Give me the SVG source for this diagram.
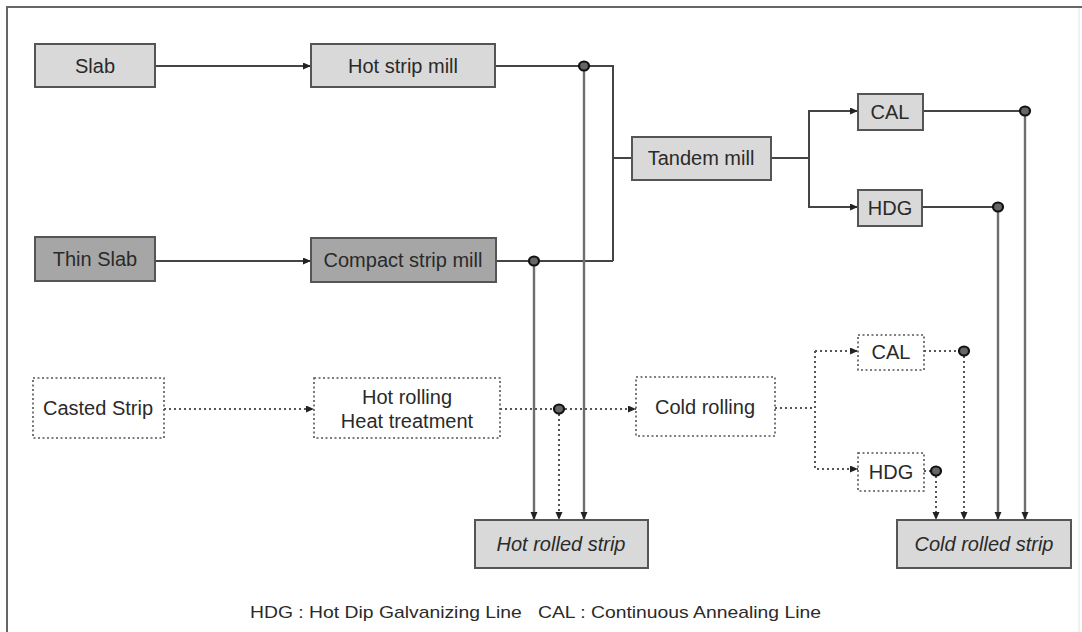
<svg xmlns="http://www.w3.org/2000/svg" width="1082" height="632" viewBox="0 0 1082 632">
<defs>
<marker id="arr" markerUnits="userSpaceOnUse" markerWidth="9" markerHeight="8" refX="8" refY="3.5" orient="auto">
<path d="M0,0 L8,3.5 L0,7 z" fill="#222"/>
</marker>
</defs>
<style>
.box{fill:#d9d9d9;stroke:#555;stroke-width:2}
.dark{fill:#a6a6a6;stroke:#555;stroke-width:2}
.dbox{fill:#fff;stroke:#555;stroke-width:1.6;stroke-dasharray:2 2.5}
.t{font-family:"Liberation Sans",Arial,sans-serif;font-size:20px;fill:#2a2a2a;text-anchor:middle;dominant-baseline:central}
.i{font-style:italic}
.s{fill:none;stroke:#444;stroke-width:2}
.v{fill:none;stroke:#6e6e6e;stroke-width:2.4}
.d{fill:none;stroke:#555;stroke-width:2;stroke-dasharray:2 3}
.j{fill:#666;stroke:#111;stroke-width:2.2}
.f{font-family:"Liberation Sans",Arial,sans-serif;font-size:17px;fill:#2a2a2a}
</style>
<rect width="1082" height="632" fill="#fff"/>
<g id="frame">
<line x1="7" y1="7" x2="1082" y2="7" stroke="#666" stroke-width="2"/>
<line x1="7" y1="6" x2="7" y2="632" stroke="#666" stroke-width="2"/>
<line x1="1079" y1="8" x2="1079" y2="632" stroke="#e4e4e4" stroke-width="1"/>
</g>
<g id="connectors">
<line class="s" x1="155" y1="66" x2="311" y2="66" marker-end="url(#arr)"/>
<polyline class="s" points="495,66 613,66 613,261"/>
<line class="s" x1="613" y1="158" x2="632" y2="158"/>
<line class="s" x1="155" y1="261" x2="311" y2="261" marker-end="url(#arr)"/>
<line class="s" x1="496" y1="261" x2="613" y2="261"/>
<line class="s" x1="771" y1="158" x2="809" y2="158"/>
<polyline class="s" points="858,111 809,111 809,207 858,207" marker-end="url(#arr)"/>
<line class="s" x1="809" y1="111" x2="858" y2="111" marker-end="url(#arr)"/>
<line class="s" x1="923" y1="111" x2="1025" y2="111"/>
<line class="s" x1="922" y1="207" x2="998" y2="207"/>
<line class="v" x1="584" y1="66" x2="584" y2="520" marker-end="url(#arr)"/>
<line class="v" x1="534" y1="261" x2="534" y2="520" marker-end="url(#arr)"/>
<line class="v" x1="1025" y1="111" x2="1025" y2="520" marker-end="url(#arr)"/>
<line class="v" x1="998" y1="207" x2="998" y2="520" marker-end="url(#arr)"/>
<line class="d" x1="164" y1="409" x2="314" y2="409" marker-end="url(#arr)"/>
<line class="d" x1="500" y1="409" x2="636" y2="409" marker-end="url(#arr)"/>
<line class="d" x1="559" y1="409" x2="559" y2="520" marker-end="url(#arr)"/>
<line class="d" x1="775" y1="408" x2="815" y2="408"/>
<polyline class="d" points="815,351 815,469 858,469" marker-end="url(#arr)"/>
<line class="d" x1="815" y1="351" x2="858" y2="351" marker-end="url(#arr)"/>
<line class="d" x1="924" y1="351" x2="964" y2="351"/>
<line class="d" x1="964" y1="351" x2="964" y2="520" marker-end="url(#arr)"/>
<line class="d" x1="924" y1="471" x2="931" y2="471"/>
<line class="d" x1="936" y1="471" x2="936" y2="520" marker-end="url(#arr)"/>
<ellipse class="j" cx="584" cy="66" rx="5" ry="4.5"/>
<ellipse class="j" cx="534" cy="261" rx="5" ry="4.5"/>
<ellipse class="j" cx="1025" cy="111" rx="5" ry="4.5"/>
<ellipse class="j" cx="998" cy="207" rx="5" ry="4.5"/>
<ellipse class="j" cx="559" cy="409" rx="5" ry="4.5"/>
<ellipse class="j" cx="964" cy="351" rx="5" ry="4.5"/>
<ellipse class="j" cx="936" cy="471" rx="5" ry="4.5"/>
</g>
<g id="slab"><rect class="box" x="35" y="44" width="120" height="43"/><text class="t" x="95" y="66">Slab</text></g>
<g id="hot-strip-mill"><rect class="box" x="311" y="44" width="184" height="43"/><text class="t" x="403" y="66">Hot strip mill</text></g>
<g id="tandem-mill"><rect class="box" x="632" y="137" width="139" height="43"/><text class="t" x="701" y="158">Tandem mill</text></g>
<g id="cal"><rect class="box" x="858" y="94" width="65" height="36"/><text class="t" x="890" y="112">CAL</text></g>
<g id="hdg"><rect class="box" x="858" y="190" width="64" height="36"/><text class="t" x="890" y="208">HDG</text></g>
<g id="thin-slab"><rect class="dark" x="35" y="237" width="120" height="44"/><text class="t" x="95" y="259">Thin Slab</text></g>
<g id="compact-strip-mill"><rect class="dark" x="311" y="238" width="185" height="44"/><text class="t" x="403" y="260">Compact strip mill</text></g>
<g id="casted-strip"><rect class="dbox" x="33" y="378" width="131" height="60"/><text class="t" x="98" y="408">Casted Strip</text></g>
<g id="hot-rolling"><rect class="dbox" x="314" y="378" width="186" height="60"/><text class="t" x="407" y="397">Hot rolling</text><text class="t" x="407" y="421">Heat treatment</text></g>
<g id="cold-rolling"><rect class="dbox" x="636" y="377" width="139" height="59"/><text class="t" x="705" y="407">Cold rolling</text></g>
<g id="cal-2"><rect class="dbox" x="858" y="335" width="66" height="35"/><text class="t" x="891" y="352">CAL</text></g>
<g id="hdg-2"><rect class="dbox" x="858" y="453" width="66" height="38"/><text class="t" x="891" y="472">HDG</text></g>
<g id="hot-rolled-strip"><rect class="box" x="475" y="520" width="173" height="48"/><text class="t i" x="561" y="544">Hot rolled strip</text></g>
<g id="cold-rolled-strip"><rect class="box" x="897" y="520" width="174" height="48"/><text class="t i" x="984" y="544">Cold rolled strip</text></g>
<g id="legend"><text class="f" x="250" y="618" textLength="571" lengthAdjust="spacingAndGlyphs" xml:space="preserve">HDG : Hot Dip Galvanizing Line   CAL : Continuous Annealing Line</text></g>
</svg>
